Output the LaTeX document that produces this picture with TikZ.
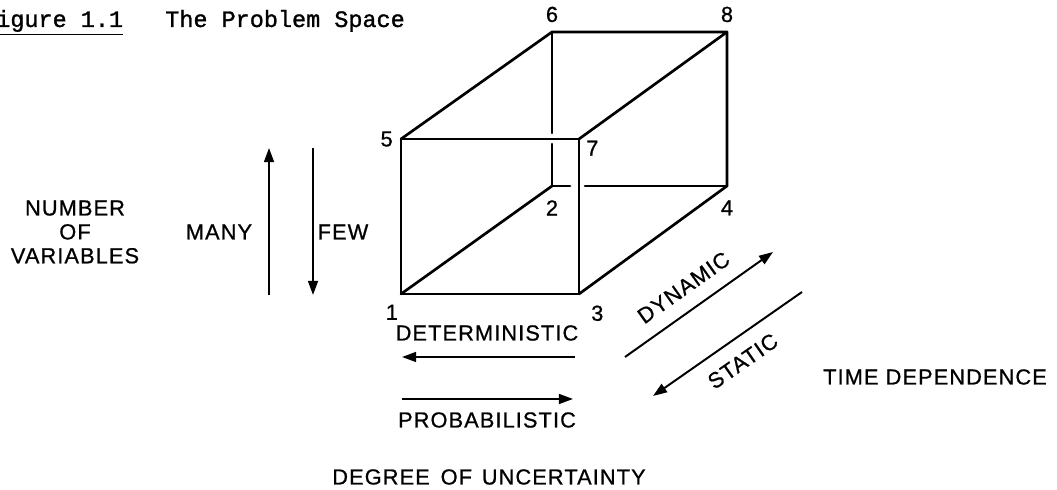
\documentclass[tikz,border=0pt]{standalone}
\usepackage{fontspec}
\setmainfont{Liberation Sans}
\setmonofont[FakeBold=1.2]{Liberation Mono}
\newfontfamily\letterfont[LetterSpace=5,FakeBold=0.8]{Liberation Sans}
\usepackage{tikz}
\usetikzlibrary{arrows.meta,positioning}

\begin{document}
\begin{tikzpicture}[
    >={Triangle[length=10pt,width=7pt]},
    cubeEdge/.style={line width=1.9pt, line cap=round, line join=round},
    axisArrow/.style={line width=1.4pt},
    lettering/.style={font=\letterfont\fontsize{15.5}{17}\selectfont, inner sep=0pt},
    cornerLabel/.style={lettering},
    captionText/.style={font=\ttfamily\fontsize{16.7}{18}\selectfont, inner sep=0pt}
  ]
  \useasboundingbox (0,0) rectangle (26.425,12.25);

  % caption
  \node[captionText, anchor=base west] (figNo) at (-0.1,11.575) {\underline{igure 1.1}};
  \node[captionText, anchor=base west] (figTitle) at (4.125,11.575) {The Problem Space};

  % cube corners
  \coordinate (c1) at (10.025,4.9);
  \coordinate (c2) at (13.8,7.6);
  \coordinate (c3) at (14.475,4.9);
  \coordinate (c4) at (18.175,7.6);
  \coordinate (c5) at (10.025,8.775);
  \coordinate (c6) at (13.8,11.45);
  \coordinate (c7) at (14.475,8.775);
  \coordinate (c8) at (18.175,11.45);

  \draw[cubeEdge] (c1) -- (c3) -- (c7) -- (c5) -- cycle;
  \draw[cubeEdge] (c5) -- (c6) -- (c8) -- (c7);
  \draw[cubeEdge] (c8) -- (c4) -- (c3);
  \draw[cubeEdge] (c1) -- (c2);
  % back edges, broken where they pass behind the front face
  \draw[cubeEdge, shorten >=4.3pt] (c6) -- (c6 |- c5);
  \draw[cubeEdge, shorten <=3.6pt] (c6 |- c5) -- (c2);
  \draw[cubeEdge, shorten >=6.4pt] (c2) -- (c2 -| c7);
  \draw[cubeEdge, shorten <=4.3pt] (c2 -| c7) -- (c4);

  \node[cornerLabel, left=5.7pt of c5] (n5) {5};
  \node[cornerLabel, above=6.8pt of c6] (n6) {6};
  \node[cornerLabel, above=6.8pt of c8] (n8) {8};
  \node[cornerLabel, below right=1pt and 5pt of c7] (n7) {7};
  \node[cornerLabel, below=10pt of c2] (n2) {2};
  \node[cornerLabel, below=10pt of c4] (n4) {4};
  \node[cornerLabel, below left=7.5pt and 2pt of c1] (n1) {1};
  \node[cornerLabel, below right=8pt and 8.5pt of c3] (n3) {3};

  % number of variables
  \node[lettering, align=center] (numVars) at (1.875,6.45) {NUMBER\\OF\\VARIABLES};
  \node[lettering] (many) at (5.475,6.45) {MANY};
  \node[lettering] (few) at (8.575,6.45) {FEW};
  \coordinate (manyLo) at (6.725,4.875);
  \coordinate (manyHi) at (6.725,8.55);
  \coordinate (fewHi) at (7.825,8.55);
  \coordinate (fewLo) at (7.825,4.875);
  \draw[axisArrow,->] (manyLo) -- (manyHi);
  \draw[axisArrow,->] (fewHi) -- (fewLo);

  % degree of uncertainty
  \node[lettering] (determ) at (12.175,3.925) {DETERMINISTIC};
  \coordinate (detR) at (14.375,3.325);
  \coordinate (detL) at (10.05,3.325);
  \draw[axisArrow,->] (detR) -- (detL);
  \coordinate (probL) at (10.05,2.275);
  \coordinate (probR) at (14.325,2.275);
  \draw[axisArrow,->] (probL) -- (probR);
  \node[lettering] (prob) at (12.175,1.75) {PROBABILISTIC};
  \node[lettering] (uncert) at (12.225,0.325) {DEGREE\hspace{0.5em}OF\hspace{0.45em}UNCERTAINTY};

  % time dependence
  \coordinate (dynLo) at (15.625,3.325);
  \coordinate (dynHi) at (19.325,5.95);
  \draw[axisArrow,->] (dynLo) -- node[lettering, sloped, above=10pt, pos=0.485] (dynamic) {DYNAMIC} (dynHi);
  \coordinate (statLo) at (16.325,2.35);
  \coordinate (statHi) at (20.05,4.95);
  \draw[axisArrow,<-] (statLo) -- node[lettering, sloped, below=10pt, pos=0.515] (static) {STATIC} (statHi);
  \node[lettering] (timeDep) at (23.375,2.825) {TIME DEPENDENCE};
\end{tikzpicture}
\end{document}
